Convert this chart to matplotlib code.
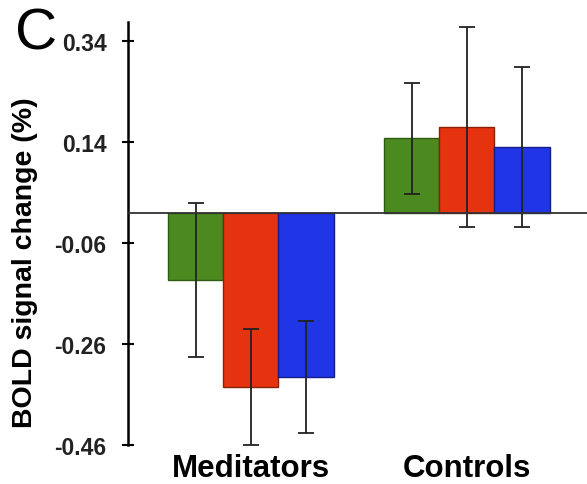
import numpy as np
import matplotlib.pyplot as plt

groups = ['Meditators', 'Controls']
conditions = ['green', 'red', 'blue']
values = {
    'green': [-0.133, 0.148],
    'red': [-0.345, 0.170],
    'blue': [-0.325, 0.130],
}
errors = {
    'green': [0.152, 0.110],
    'red': [0.115, 0.199],
    'blue': [0.111, 0.158],
}
colors = {'green': '#4a8a1f', 'red': '#e5330f', 'blue': '#1f35e6'}
edges = {'green': '#2f5a12', 'red': '#8a2008', 'blue': '#14208a'}
yticks = [-0.46, -0.26, -0.06, 0.14, 0.34]

plt.rcParams['font.family'] = ['Liberation Sans', 'DejaVu Sans']

fig = plt.figure(figsize=(5.87, 4.85), dpi=100)
ax = fig.add_axes([0.218, 0.0804, 0.782, 0.8722])

x = np.arange(len(groups))
width = 0.255
for i, c in enumerate(conditions):
    pos = x + (i - 1) * width
    ax.bar(pos, values[c], width, color=colors[c], edgecolor=edges[c], linewidth=1.0, zorder=2)
    ax.errorbar(pos, values[c], yerr=errors[c], fmt='none', ecolor='#222222',
                elinewidth=1.3, capsize=6, capthick=1.3, zorder=3)

ax.axhline(0, color='#333333', linewidth=1.3, zorder=4)

ax.set_xlim(-0.569, 1.556)
ax.set_ylim(-0.46, 0.378)
ax.set_yticks(yticks)
ax.set_yticklabels([f'{t:.2f}' for t in yticks], fontsize=16.5, fontweight='bold', color='#222222')
ax.tick_params(axis='y', direction='inout', length=9, width=1.5, pad=11)
ax.set_xticks(x)
ax.set_xticklabels(groups, fontsize=22.5, fontweight='bold')
ax.tick_params(axis='x', length=0, pad=6)

for s in ['top', 'right', 'bottom']:
    ax.spines[s].set_visible(False)
ax.spines['left'].set_linewidth(1.8)

ax.set_ylabel('BOLD signal change (%)', fontsize=20.5, fontweight='bold')
ax.yaxis.set_label_coords(-0.196, 0.433)
fig.text(0.025, 0.985, 'C', fontsize=42, va='top', ha='left')

fig.savefig('out.png', dpi=100)
